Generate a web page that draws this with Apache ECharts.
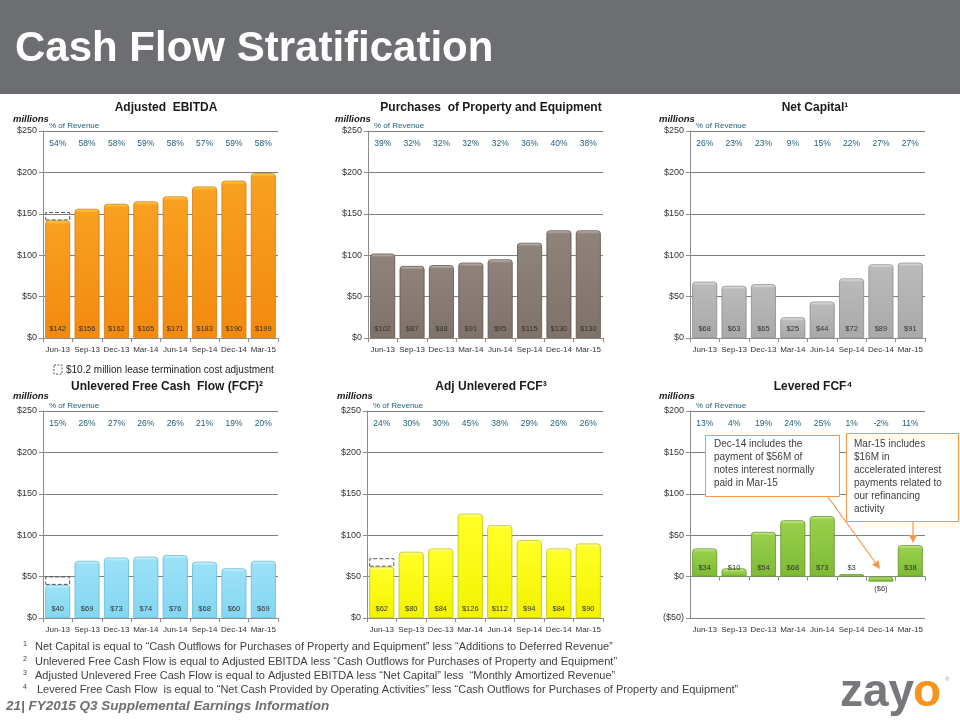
<!DOCTYPE html>
<html><head><meta charset="utf-8">
<script src="https://cdn.jsdelivr.net/npm/echarts@6/dist/echarts.min.js"></script>
<style>html,body{margin:0;padding:0;background:#fff}#c{width:960px;height:720px}</style>
</head><body><div id="c"></div>
<script>
// ---------- data ----------
const categories = ['Jun-13','Sep-13','Dec-13','Mar-14','Jun-14','Sep-14','Dec-14','Mar-15'];

const ebitda      = [142,156,162,165,171,183,190,199];
const ebitdaPct   = ['54%','58%','58%','59%','58%','57%','59%','58%'];
const ebitdaAdj   = [10.2,null,null,null,null,null,null,null];

const ppe         = [102,87,88,91,95,115,130,130];
const ppePct      = ['39%','32%','32%','32%','32%','36%','40%','38%'];

const netCapital  = [68,63,65,25,44,72,89,91];
const netCapPct   = ['26%','23%','23%','9%','15%','22%','27%','27%'];

const ufcf        = [40,69,73,74,76,68,60,69];
const ufcfPct     = ['15%','26%','27%','26%','26%','21%','19%','20%'];
const ufcfAdj     = [10.2,null,null,null,null,null,null,null];

const adjUfcf     = [62,80,84,126,112,94,84,90];
const adjUfcfPct  = ['24%','30%','30%','45%','38%','29%','26%','26%'];
const adjUfcfAdj  = [10.2,null,null,null,null,null,null,null];

const lfcf        = [34,10,54,68,73,3,-6,38];
const lfcfPct     = ['13%','4%','19%','24%','25%','1%','-2%','11%'];

const titles = ['Adjusted  EBITDA','Purchases  of Property and Equipment','Net Capital\u00B9',
                'Unlevered Free Cash  Flow (FCF)\u00B2','Adj Unlevered FCF\u00B3','Levered FCF\u2074'];

const footnotes = [
 'Net Capital is equal to \u201CCash Outflows for Purchases of Property and Equipment\u201D less \u201CAdditions to Deferred Revenue\u201D',
 'Unlevered Free Cash Flow is equal to Adjusted EBITDA less \u201CCash Outflows for Purchases of Property and Equipment\u201D',
 'Adjusted Unlevered Free Cash Flow is equal to Adjusted EBITDA less \u201CNet Capital\u201D less  \u201CMonthly Amortized Revenue\u201D',
 'Levered Free Cash Flow  is equal to \u201CNet Cash Provided by Operating Activities\u201D less \u201CCash Outflows for Purchases of Property and Equipment\u201D'
];

// ---------- layout / styles ----------
const charts = [
 {vals:ebitda, pct:ebitdaPct, adj:ebitdaAdj, grid:{left:43,top:131,width:235,height:207}, min:0,max:250,
  col:{hi:'#FFE45A',base:'#F9A020',bot:'#F28A10',border:'#D8780C'}, tx:166, ty:108, mx:13, my:119},
 {vals:ppe, pct:ppePct, adj:null, grid:{left:368,top:131,width:235,height:207}, min:0,max:250,
  col:{hi:'#CFC6C0',base:'#8F827B',bot:'#7F726A',border:'#5E534D'}, tx:491, ty:108, mx:335, my:119},
 {vals:netCapital, pct:netCapPct, adj:null, grid:{left:690,top:131,width:235,height:207}, min:0,max:250,
  col:{hi:'#EDEDED',base:'#BABABA',bot:'#A9A9A9',border:'#8A8A8A'}, tx:815, ty:108, mx:659, my:119},
 {vals:ufcf, pct:ufcfPct, adj:ufcfAdj, grid:{left:43,top:411,width:235,height:207}, min:0,max:250,
  col:{hi:'#DDF7FF',base:'#9AE1F7',bot:'#84D6F1',border:'#62BAD9'}, tx:167, ty:387, mx:13, my:396},
 {vals:adjUfcf, pct:adjUfcfPct, adj:adjUfcfAdj, grid:{left:367,top:411,width:236,height:207}, min:0,max:250,
  col:{hi:'#FFFFC8',base:'#FFFF26',bot:'#F3F300',border:'#C4C400'}, tx:491, ty:387, mx:337, my:396},
 {vals:lfcf, pct:lfcfPct, adj:null, grid:{left:690,top:411,width:235,height:207}, min:-50,max:200,
  col:{hi:'#DDF2A8',base:'#98CF4A',bot:'#7FBA34',border:'#5F9526'}, tx:813, ty:387, mx:659, my:396}
];

const money = v => v < 0 ? '($' + Math.abs(v) + ')' : '$' + v;
const FONT = "'Liberation Sans', Arial, sans-serif";

const grid = [], xAxis = [], yAxis = [], series = [];
charts.forEach((c, i) => {
  grid.push(c.grid);
  const pxPerUnit = c.grid.height / (c.max - c.min);
  xAxis.push({
    gridIndex:i, type:'category', data:categories,
    axisLine:{onZero:true, lineStyle:{color:'#8C8C8C'}},
    axisTick:{show:true, length:4, lineStyle:{color:'#8C8C8C'}},
    axisLabel:{interval:0, color:'#333', fontSize:8, fontFamily:FONT, margin:8}
  });
  xAxis.push({
    gridIndex:i, type:'category', data:c.pct, position:'top',
    axisLine:{show:false}, axisTick:{show:false},
    axisLabel:{inside:true, interval:0, margin:8, color:'#22607A', fontSize:8.5, fontFamily:FONT}
  });
  yAxis.push({
    gridIndex:i, type:'value', min:c.min, max:c.max, interval:50,
    axisLine:{show:true, lineStyle:{color:'#8C8C8C'}},
    axisTick:{show:true, length:4, lineStyle:{color:'#8C8C8C'}},
    splitLine:{show:true, lineStyle:{color:'#7F7F7F', width:1}},
    axisLabel:{formatter:money, color:'#333', fontSize:9, fontFamily:FONT, margin:6}
  });
  series.push({
    type:'bar', xAxisIndex:2*i, yAxisIndex:i, stack:'s'+i, barCategoryGap:'15%',
    data: c.vals.map(v => v < 0 ? {value:v, label:{position:'bottom', distance:3}} : v),
    itemStyle:{
      borderColor:c.col.border, borderWidth:0.8, borderRadius:[3,3,0,0],
      color: p => {
        const h = Math.abs(p.value) * pxPerUnit;
        const s = Math.min(0.45, 3.5 / Math.max(h, 1));
        return {type:'linear', x:0, y:0, x2:0, y2:1, colorStops:[
          {offset:0, color:c.col.hi}, {offset:s, color:c.col.base}, {offset:1, color:c.col.bot}]};
      }
    },
    label:{show:true, position:'insideBottom', distance:5, fontSize:7.5, color:'#333', fontFamily:FONT,
      formatter: p => money(p.value)}
  });
  if (c.adj) {
    series.push({
      type:'bar', xAxisIndex:2*i, yAxisIndex:i, stack:'s'+i, barCategoryGap:'15%', silent:true,
      data:c.adj,
      itemStyle:{color:'rgba(255,255,255,0)', borderColor:'#555', borderWidth:1, borderType:'dashed'}
    });
  }
});

// ---------- graphic (text / decorations) ----------
const g = [];
g.push({type:'rect', shape:{x:0,y:0,width:960,height:94}, style:{fill:'#6D6E71'}, z:0});
g.push({type:'text', style:{text:'Cash Flow Stratification', x:15, y:70, textVerticalAlign:'bottom',
  font:"bold 42px " + FONT, fill:'#fff', shadowColor:'rgba(0,0,0,0.55)', shadowOffsetX:2, shadowOffsetY:2, shadowBlur:2}, z:1});

charts.forEach((c, i) => {
  g.push({type:'text', style:{text:titles[i], x:c.tx, y:c.ty, textAlign:'center', textVerticalAlign:'middle',
    font:"bold 12px " + FONT, fill:'#1a1a1a'}});
  g.push({type:'text', style:{text:'millions', x:c.mx, y:c.my, textVerticalAlign:'middle',
    font:"italic bold 9.5px " + FONT, fill:'#1a1a1a'}});
  g.push({type:'text', style:{text:'% of Revenue', x:c.grid.left + 6, y:c.grid.top - 5, textVerticalAlign:'middle',
    font:"8px " + FONT, fill:'#22607A'}});
});

// legend for adjustment box
g.push({type:'rect', shape:{x:54,y:365,width:8,height:9}, style:{fill:'none', stroke:'#555', lineWidth:1, lineDash:[2,1.5]}});
g.push({type:'text', style:{text:'$10.2 million lease termination cost adjustment', x:66, y:370, textVerticalAlign:'middle',
  font:"10px " + FONT, fill:'#222'}});

// annotations for Levered FCF
g.push({type:'rect', z:100, shape:{x:705.5,y:435.5,width:134,height:61}, style:{fill:'#fff', stroke:'#F79646', lineWidth:1}});
g.push({type:'text', z:101, style:{text:'Dec-14 includes the\npayment of $56M of\nnotes interest normally\npaid in Mar-15',
  x:714, y:438, font:"10px " + FONT, lineHeight:13, fill:'#404040'}});
g.push({type:'rect', z:100, shape:{x:846.5,y:433.5,width:112,height:88}, style:{fill:'#fff', stroke:'#F79646', lineWidth:1}});
g.push({type:'text', z:101, style:{text:'Mar-15 includes\n$16M in\naccelerated interest\npayments related to\nour refinancing\nactivity',
  x:854, y:438, font:"10px " + FONT, lineHeight:13, fill:'#404040'}});
function arrow(x1,y1,x2,y2){
  const a = Math.atan2(y2-y1, x2-x1), L = 8, W = 4;
  const bx = x2 - L*Math.cos(a), by = y2 - L*Math.sin(a);
  g.push({type:'line', z:100, shape:{x1,y1,x2:bx,y2:by}, style:{stroke:'#F79646', lineWidth:1.2}});
  g.push({type:'polygon', z:100, shape:{points:[[x2,y2],[bx + W*Math.sin(a), by - W*Math.cos(a)],[bx - W*Math.sin(a), by + W*Math.cos(a)]]},
    style:{fill:'#F79646'}});
}
arrow(828,497,880,569);
arrow(913,522,913,543);

// footnotes
const fnY = [647,662,676,690];
footnotes.forEach((t, k) => {
  g.push({type:'text', style:{text:String(k+1), x:23, y:fnY[k]-3, textVerticalAlign:'middle', font:"7px " + FONT, fill:'#404040'}});
  g.push({type:'text', style:{text:t, x: k === 3 ? 37 : 35, y:fnY[k], textVerticalAlign:'middle', font:"11px " + FONT, fill:'#404040'}});
});
g.push({type:'text', style:{text:'21| FY2015 Q3 Supplemental Earnings Information', x:6, y:706, textVerticalAlign:'middle',
  font:"italic bold 13.5px " + FONT, fill:'#6D6E71'}});
g.push({type:'text', style:{text:'zay', x:840, y:693, textVerticalAlign:'middle',
  font:"bold 46px " + FONT, fill:'#77787B'}});
g.push({type:'text', style:{text:'o', x:913, y:693, textVerticalAlign:'middle',
  font:"bold 46px " + FONT, fill:'#F7941D'}});
g.push({type:'text', style:{text:'\u00AE', x:945, y:676, font:"6px " + FONT, fill:'#999'}});

const chart = echarts.init(document.getElementById('c'), null, {renderer:'canvas'});
chart.setOption({
  animation:false, backgroundColor:'#fff',
  grid, xAxis, yAxis, series, graphic:{elements:g}
});
</script></body></html>
